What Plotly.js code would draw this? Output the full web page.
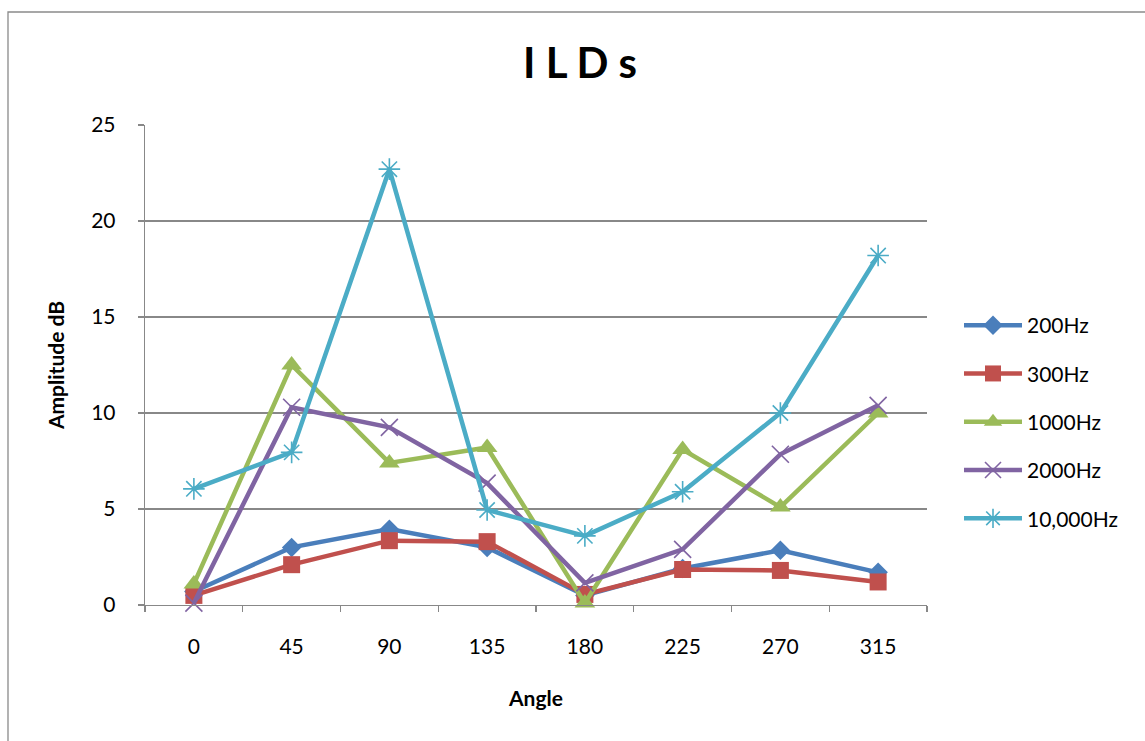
<!DOCTYPE html>
<html>
<head>
<meta charset="utf-8">
<script src="https://cdn.plot.ly/plotly-3.0.1.min.js"></script>
<style>
  html, body { margin: 0; padding: 0; background: #ffffff; }
  #chart { width: 1145px; height: 741px; }
</style>
</head>
<body>
<div id="chart"></div>
<script>
// Interaural level differences per source angle, one series per test frequency
const angles = ["0", "45", "90", "135", "180", "225", "270", "315"];
const seriesNames = ["200Hz", "300Hz", "1000Hz", "2000Hz", "10,000Hz"];
const ild200 = [0.7, 3.0, 3.95, 3.0, 0.5, 1.9, 2.85, 1.7];
const ild300 = [0.5, 2.1, 3.35, 3.3, 0.55, 1.85, 1.8, 1.2];
const ild1000 = [1.1, 12.5, 7.4, 8.2, 0.1, 8.1, 5.1, 10.0];
const ild2000 = [0.1, 10.3, 9.25, 6.35, 1.15, 2.9, 7.85, 10.4];
const ild10000 = [6.05, 7.95, 22.7, 4.95, 3.6, 5.9, 10.0, 18.2];

const seriesValues = [ild200, ild300, ild1000, ild2000, ild10000];
const colors = ["#4A7EBB", "#C0504D", "#9BBB59", "#8064A2", "#4BACC6"];
const symbols = ["diamond", "square", "triangle-up", "x-thin-open", "asterisk-open"];
const sizes = [15, 17, 18, 17, 18];

const FONT = "Lato, 'Open Sans', 'Liberation Sans', sans-serif";
const GRID = "#888888";

const traces = seriesValues.map((vals, i) => {
  const open = symbols[i].endsWith("-open");
  return {
    type: "scatter",
    mode: "lines+markers",
    name: seriesNames[i],
    legendgroup: "g" + i,
    x: angles,
    y: vals,
    line: { color: colors[i], width: 4.5 },
    marker: {
      symbol: symbols[i],
      size: sizes[i],
      color: colors[i],
      line: open ? { color: colors[i], width: 1.6 } : { width: 0 }
    },
    cliponaxis: false
  };
});

// plot area spans x 145..927, y 125..605 px
const L = 145, R = 927, T = 125, B = 605, W = 1145, H = 741;
const px2x = p => (p - L) / (R - L);
const px2y = p => (B - p) / (B - T);

const layout = {
  width: W,
  height: H,
  margin: { l: L, r: W - R, t: T, b: H - B, pad: 0 },
  paper_bgcolor: "#ffffff",
  plot_bgcolor: "#ffffff",
  font: { family: FONT, size: 21, color: "#000000" },
  title: {
    text: "<b>I L D s</b>",
    font: { family: FONT, size: 42, color: "#000000" },
    xref: "paper",
    x: px2x(580),
    xanchor: "center",
    yref: "container",
    y: 1 - 63 / H,
    yanchor: "middle"
  },
  xaxis: {
    type: "category",
    range: [-0.5, 7.5],
    tickson: "boundaries",
    ticks: "outside",
    ticklen: 6,
    tickcolor: GRID,
    tickwidth: 1.3,
    showline: true,
    linecolor: GRID,
    linewidth: 1.3,
    showgrid: false,
    zeroline: false,
    tickfont: { size: 21 },
    ticklabelstandoff: 22,
    title: { text: "<b>Angle</b>", font: { size: 21 }, standoff: 34 }
  },
  yaxis: {
    range: [0, 25],
    dtick: 5,
    tick0: 0,
    ticks: "outside",
    ticklen: 6,
    tickcolor: GRID,
    tickwidth: 1.3,
    showline: true,
    linecolor: GRID,
    linewidth: 1.3,
    showgrid: true,
    gridcolor: GRID,
    gridwidth: 1.3,
    zeroline: false,
    tickfont: { size: 21 },
    ticklabelstandoff: 18,
    title: { text: "<b>Amplitude dB</b>", font: { size: 21 }, standoff: 20 }
  },
  legend: {
    x: px2x(959),
    xanchor: "left",
    y: px2y(305),
    yanchor: "top",
    traceorder: "grouped",
    tracegroupgap: 18,
    itemwidth: 58,
    font: { size: 21 },
    bgcolor: "rgba(0,0,0,0)",
    borderwidth: 0
  },
  showlegend: true,
  shapes: [{
    type: "rect",
    xref: "paper", yref: "paper",
    x0: px2x(8), x1: px2x(1300),
    y0: px2y(900), y1: px2y(12),
    line: { color: "#8a8a8a", width: 1.3 },
    fillcolor: "rgba(0,0,0,0)",
    layer: "below"
  }]
};

Plotly.newPlot("chart", traces, layout, { staticPlot: true, displayModeBar: false });
</script>
</body>
</html>
